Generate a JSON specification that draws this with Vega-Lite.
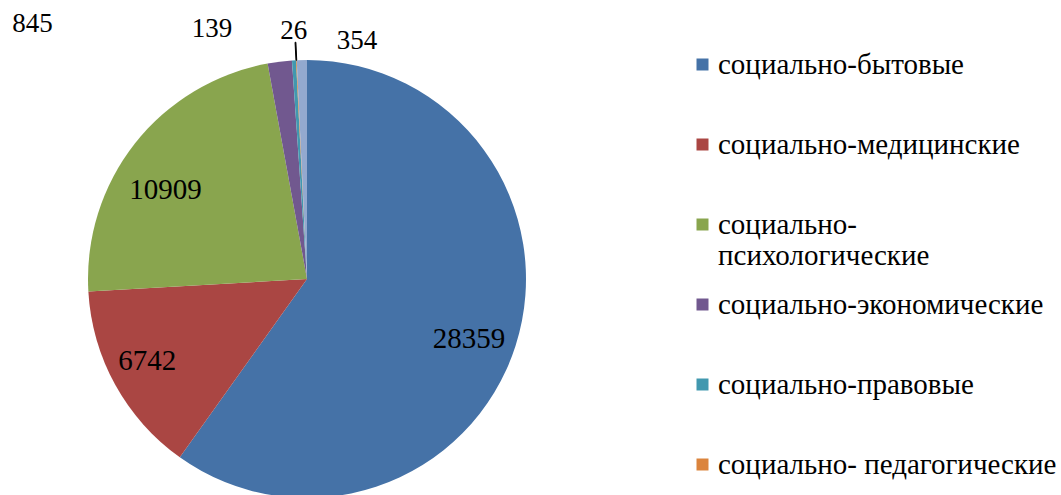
{
  "$schema": "https://vega.github.io/schema/vega-lite/v6.json",
  "width": 614,
  "height": 558,
  "padding": 0,
  "background": "white",
  "config": {"view": {"stroke": null}, "font": "Liberation Serif"},
  "data": {
    "values": [
      {"i": 1, "cat": "социально-бытовые", "v": 28359},
      {"i": 2, "cat": "социально-медицинские", "v": 6742},
      {"i": 3, "cat": "социально-психологические", "v": 10909},
      {"i": 4, "cat": "социально-экономические", "v": 845},
      {"i": 5, "cat": "социально-правовые", "v": 139},
      {"i": 6, "cat": "социально- педагогические", "v": 26},
      {"i": 7, "cat": "социально-трудовые", "v": 354}
    ]
  },
  "layer": [
    {
      "mark": {"type": "arc", "outerRadius": 219},
      "encoding": {
        "theta": {"field": "v", "type": "quantitative", "stack": true},
        "order": {"field": "i", "type": "quantitative"},
        "color": {
          "field": "cat",
          "type": "nominal",
          "scale": {
            "domain": ["социально-бытовые", "социально-медицинские", "социально-психологические", "социально-экономические", "социально-правовые", "социально- педагогические", "социально-трудовые"],
            "range": ["#4572A7", "#AA4643", "#89A54E", "#71588F", "#4198AF", "#DB843D", "#93A9CF"]
          },
          "legend": {
            "title": null,
            "orient": "none",
            "legendX": 688,
            "legendY": 50,
            "symbolType": "square",
            "symbolSize": 144,
            "symbolStrokeWidth": 0,
            "labelFont": "Liberation Serif",
            "labelFontSize": 29,
            "labelColor": "black",
            "labelOffset": 1,
            "labelLimit": 400,
            "gridAlign": "all",
            "rowPadding": 19,
            "labelExpr": "datum.label == 'социально-психологические' ? ['социально-', 'психологические'] : datum.label"
          }
        }
      }
    },
    {
      "mark": {"type": "text", "radius": 170, "dy": 8, "font": "Liberation Serif", "fontSize": 29, "color": "black", "align": "center", "baseline": "middle"},
      "encoding": {
        "theta": {"field": "v", "type": "quantitative", "stack": true},
        "order": {"field": "i", "type": "quantitative"},
        "text": {"condition": {"test": "datum.v == 28359", "field": "v", "type": "quantitative", "format": "d"}, "value": ""}
      }
    },
    {
      "mark": {"type": "text", "radius": 170, "dx": -11, "dy": 0, "font": "Liberation Serif", "fontSize": 29, "color": "black", "align": "center", "baseline": "middle"},
      "encoding": {
        "theta": {"field": "v", "type": "quantitative", "stack": true},
        "order": {"field": "i", "type": "quantitative"},
        "text": {"condition": {"test": "datum.v == 6742", "field": "v", "type": "quantitative", "format": "d"}, "value": ""}
      }
    },
    {
      "mark": {"type": "text", "radius": 170, "dx": -8, "dy": 16, "font": "Liberation Serif", "fontSize": 29, "color": "black", "align": "center", "baseline": "middle"},
      "encoding": {
        "theta": {"field": "v", "type": "quantitative", "stack": true},
        "order": {"field": "i", "type": "quantitative"},
        "text": {"condition": {"test": "datum.v == 10909", "field": "v", "type": "quantitative", "format": "d"}, "value": ""}
      }
    },
    {
      "transform": [
        {"stack": "v", "groupby": [], "sort": [{"field": "i", "order": "ascending"}], "as": ["s0", "s1"]},
        {"filter": "datum.v == 26"}
      ],
      "mark": {"type": "arc", "radius": 237, "radius2": 219, "stroke": "black", "strokeWidth": 1, "fill": "black"},
      "encoding": {
        "theta": {"field": "s0", "type": "quantitative"},
        "theta2": {"field": "s1"}
      }
    },
    {
      "transform": [
        {"stack": "v", "groupby": [], "sort": [{"field": "i", "order": "ascending"}], "as": ["s0", "s1"]},
        {"filter": "datum.v == 845"}
      ],
      "mark": {"type": "text", "radius": 240, "dx": -258, "dy": -16, "font": "Liberation Serif", "fontSize": 27, "color": "black", "align": "center", "baseline": "middle"},
      "encoding": {
        "theta": {"field": "s1", "type": "quantitative"},
        "text": {"field": "v", "type": "quantitative", "format": "d"}
      }
    },
    {
      "transform": [
        {"stack": "v", "groupby": [], "sort": [{"field": "i", "order": "ascending"}], "as": ["s0", "s1"]},
        {"filter": "datum.v == 139"}
      ],
      "mark": {"type": "text", "radius": 240, "dx": -83, "dy": -10, "font": "Liberation Serif", "fontSize": 27, "color": "black", "align": "center", "baseline": "middle"},
      "encoding": {
        "theta": {"field": "s1", "type": "quantitative"},
        "text": {"field": "v", "type": "quantitative", "format": "d"}
      }
    },
    {
      "transform": [
        {"stack": "v", "groupby": [], "sort": [{"field": "i", "order": "ascending"}], "as": ["s0", "s1"]},
        {"filter": "datum.v == 26"}
      ],
      "mark": {"type": "text", "radius": 240, "dx": -2, "dy": -8, "font": "Liberation Serif", "fontSize": 27, "color": "black", "align": "center", "baseline": "middle"},
      "encoding": {
        "theta": {"field": "s1", "type": "quantitative"},
        "text": {"field": "v", "type": "quantitative", "format": "d"}
      }
    },
    {
      "transform": [
        {"stack": "v", "groupby": [], "sort": [{"field": "i", "order": "ascending"}], "as": ["s0", "s1"]},
        {"filter": "datum.v == 354"}
      ],
      "mark": {"type": "text", "radius": 240, "dx": 50, "dy": 2, "font": "Liberation Serif", "fontSize": 27, "color": "black", "align": "center", "baseline": "middle"},
      "encoding": {
        "theta": {"field": "s1", "type": "quantitative"},
        "text": {"field": "v", "type": "quantitative", "format": "d"}
      }
    }
  ]
}
